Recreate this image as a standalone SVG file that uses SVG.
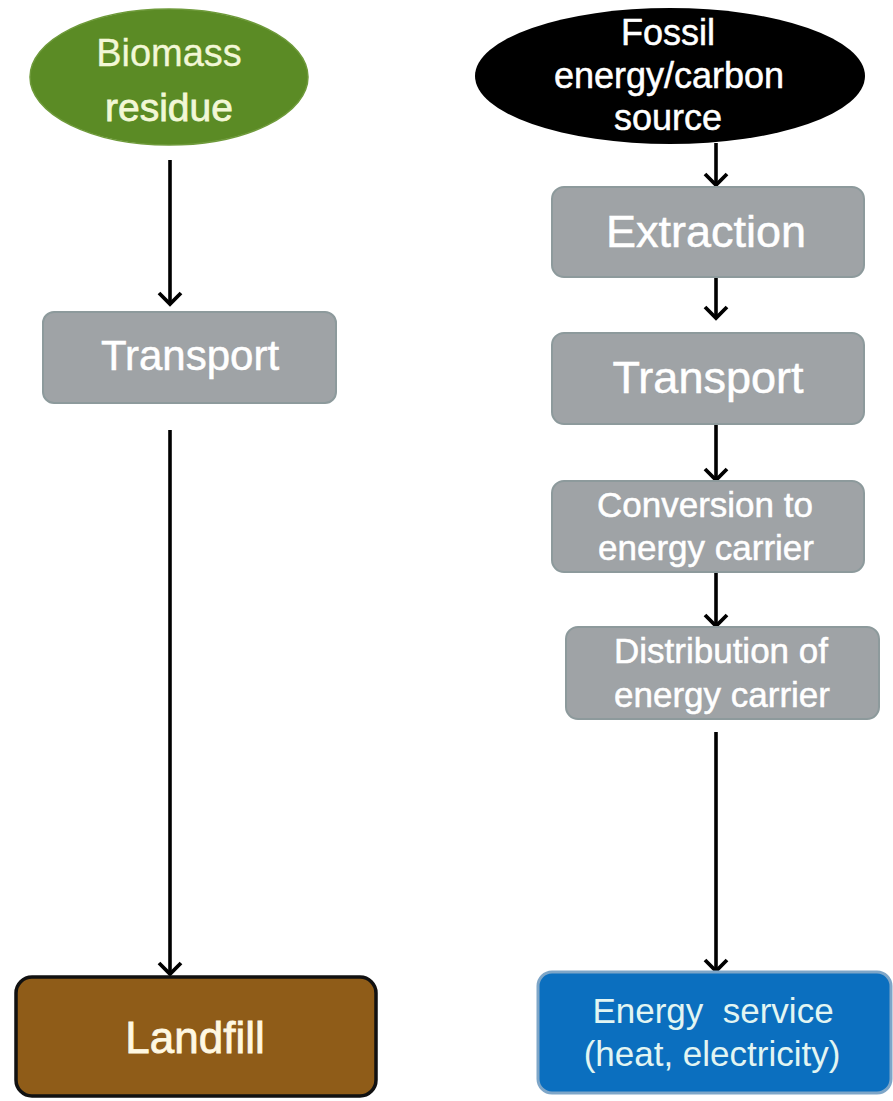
<svg xmlns="http://www.w3.org/2000/svg" width="893" height="1101" viewBox="0 0 893 1101">
<defs>
<style>
.t{font-family:"Liberation Sans",Arial,sans-serif;text-anchor:middle;}
.box{fill:#9fa3a6;stroke:#8d9a9c;stroke-width:2;}
.wt{fill:#ffffff;stroke:#ffffff;stroke-width:0.5;}
.con{stroke:#000;stroke-width:3.6;fill:none;}
</style>
<marker id="ah" markerUnits="userSpaceOnUse" viewBox="-14 -14 18 28" markerWidth="18" markerHeight="28" refX="0" refY="0" orient="auto">
<path d="M-11,-11 L0,0 L-11,11" fill="none" stroke="#000" stroke-width="3.8"/>
</marker>
</defs>
<rect width="893" height="1101" fill="#ffffff"/>

<g id="connectors">
<line class="con" x1="170" y1="160" x2="170" y2="304" marker-end="url(#ah)"/>
<line class="con" x1="170" y1="430" x2="170" y2="974" marker-end="url(#ah)"/>
<line class="con" x1="716" y1="143" x2="716" y2="185" marker-end="url(#ah)"/>
<line class="con" x1="716" y1="277" x2="716" y2="318" marker-end="url(#ah)"/>
<line class="con" x1="716" y1="424" x2="716" y2="480" marker-end="url(#ah)"/>
<line class="con" x1="716" y1="572" x2="716" y2="626" marker-end="url(#ah)"/>
<line class="con" x1="716" y1="732" x2="716" y2="971" marker-end="url(#ah)"/>
</g>

<g id="biomass">
<ellipse cx="169" cy="77" rx="139" ry="68" fill="#5b8b25" stroke="#6e9a3a" stroke-width="1.5"/>
<text class="t" x="169" y="66" font-size="38" fill="#f2f7d6" stroke="#f2f7d6" stroke-width="0.3">Biomass</text>
<text class="t" x="169" y="121" font-size="39" fill="#f2f7d6" stroke="#f2f7d6" stroke-width="0.8">residue</text>
</g>

<g id="transport-left">
<rect class="box" x="43" y="312" width="293" height="91" rx="11"/>
<text class="t wt" x="190" y="370" font-size="42">Transport</text>
</g>

<g id="landfill">
<rect x="16" y="977" width="360" height="119" rx="16" fill="#8f5c18" stroke="#111" stroke-width="3.5"/>
<text class="t" x="195" y="1053" font-size="44" fill="#fff8e2" stroke="#fff8e2" stroke-width="0.8">Landfill</text>
</g>

<g id="fossil">
<ellipse cx="670" cy="76" rx="195" ry="68" fill="#000"/>
<text class="t wt" x="668" y="45" font-size="36">Fossil</text>
<text class="t wt" x="669" y="88" font-size="36">energy/carbon</text>
<text class="t wt" x="668" y="130" font-size="36">source</text>
</g>

<g id="extraction">
<rect class="box" x="552" y="187" width="312" height="90" rx="12"/>
<text class="t wt" x="706" y="247" font-size="45">Extraction</text>
</g>

<g id="transport-right">
<rect class="box" x="552" y="333" width="312" height="91" rx="12"/>
<text class="t wt" x="708" y="393" font-size="45">Transport</text>
</g>

<g id="conversion">
<rect class="box" x="552" y="481" width="312" height="91" rx="12"/>
<text class="t wt" x="705" y="517" font-size="35">Conversion to</text>
<text class="t wt" x="706" y="560" font-size="35">energy carrier</text>
</g>

<g id="distribution">
<rect class="box" x="566" y="627" width="313" height="92" rx="12"/>
<text class="t wt" x="721" y="663" font-size="35">Distribution of</text>
<text class="t wt" x="722" y="707" font-size="35">energy carrier</text>
</g>

<g id="energy-service">
<rect x="538" y="972" width="353" height="121" rx="14" fill="#0b6fbf" stroke="#7ea6c8" stroke-width="3"/>
<text class="t" x="713" y="1023" font-size="35" fill="#e2f5f2" xml:space="preserve" style="white-space:pre">Energy  service</text>
<text class="t" x="712" y="1066" font-size="35" fill="#e2f5f2">(heat, electricity)</text>
</g>
</svg>
